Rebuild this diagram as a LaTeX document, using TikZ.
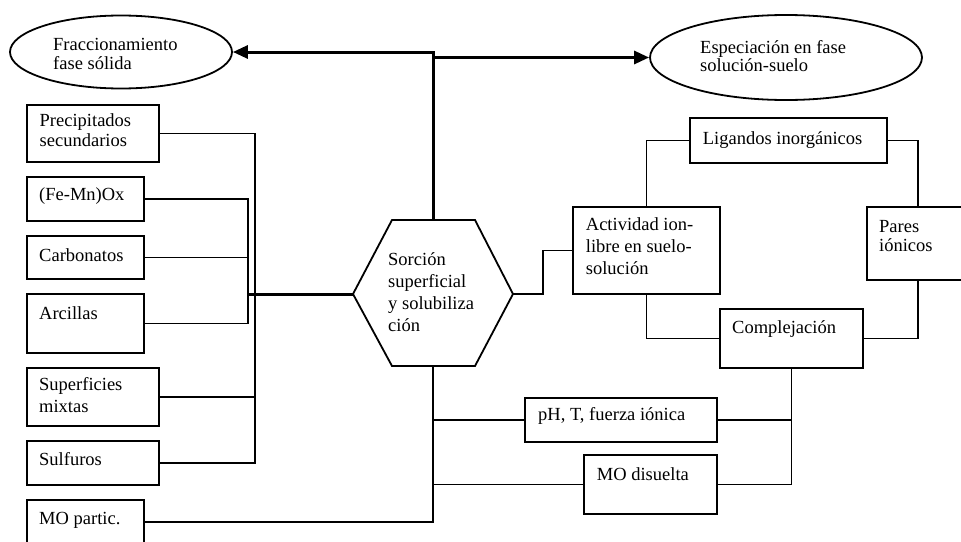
\documentclass[tikz,border=0pt]{standalone}
\usepackage{fontspec}
\setmainfont{Liberation Serif}
\usetikzlibrary{arrows.meta,calc,shapes.geometric}
\newcommand\twoline[3][20.5pt]{\vtop{\baselineskip=#1\relax\hbox{#2}\hbox{#3}}}
\begin{document}
\begin{tikzpicture}[x=1pt,y=-1pt,
  txt/.style={anchor=base west, inner sep=0pt, font=\fontsize{18.5}{20.5}\selectfont},
  box/.style={draw, line width=1.8pt, anchor=north west, inner sep=0pt},
  ell/.style={draw, ellipse, line width=1.8pt, inner sep=0pt},
  conn/.style={line width=1.8pt},
  heavy/.style={line width=3pt},
  tip/.style={-{Triangle[length=15pt,width=13pt]}}]
\useasboundingbox (0,0) rectangle (961,541);
\clip (0,0) rectangle (961,541);

% ellipses
\node[ell, minimum width=222pt, minimum height=73pt] (fr) at (121,52) {};
\node[txt] (frT) at (53,50) {\twoline[19pt]{Fraccionamiento}{fase sólida}};
\node[ell, minimum width=272pt, minimum height=85pt] (esp) at (786,57.5) {};
\node[txt] (espT) at (700,53.3) {\twoline[18.5pt]{Especiación en fase}{solución-suelo}};

% left boxes
\node[box, minimum width=132pt, minimum height=57pt] (prec) at (26,104) {};
\node[txt] (precT) at (39.5,126.7) {\twoline[20pt]{Precipitados}{secundarios}};
\node[box, minimum width=117pt, minimum height=44pt] (femn) at (26,176) {};
\node[txt] (femnT) at (39,200) {(Fe-Mn)Ox};
\node[box, minimum width=117pt, minimum height=43pt] (carb) at (26,235) {};
\node[txt] (carbT) at (39,261) {Carbonatos};
\node[box, minimum width=117pt, minimum height=59pt] (arc) at (26,293) {};
\node[txt] (arcT) at (39,319) {Arcillas};
\node[box, minimum width=132pt, minimum height=58pt] (sup) at (26,367) {};
\node[txt] (supT) at (39,390.5) {\twoline[21.5pt]{Superficies}{mixtas}};
\node[box, minimum width=132pt, minimum height=44pt] (sulf) at (26,440) {};
\node[txt] (sulfT) at (39,465) {Sulfuros};
\node[box, minimum width=117pt, minimum height=44pt] (mop) at (26,499) {};
\node[txt] (mopT) at (39,524) {MO partic.};

% hexagon
\coordinate (hT1) at (392,220);
\coordinate (hT2) at (475,220);
\coordinate (hR) at (513,294);
\coordinate (hB2) at (475,366);
\coordinate (hB1) at (392,366);
\coordinate (hL) at (353,294);
\coordinate (hT) at (433,220);
\coordinate (hB) at (433,366);
\draw[conn] (hT1) -- (hT2) -- (hR) -- (hB2) -- (hB1) -- (hL) -- cycle;
\node[txt] (sor) at (388,265) {\vtop{\baselineskip=22.3pt\relax\hbox{Sorción}\hbox{superficial}\hbox{y solubiliza}\hbox{ción}}};

% right boxes
\node[box, minimum width=197pt, minimum height=45pt] (lig) at (689,117) {};
\node[txt] (ligT) at (702.7,144) {Ligandos inorgánicos};
\node[box, minimum width=147pt, minimum height=87pt] (act) at (572,206) {};
\node[txt] (actT) at (585.7,230.7) {\vtop{\baselineskip=21.7pt\relax\hbox{Actividad ion-}\hbox{libre en suelo-}\hbox{solución}}};
\node[box, minimum width=102pt, minimum height=73pt] (par) at (866,206) {};
\node[txt] (parT) at (879,232) {\twoline[19.7pt]{Pares}{iónicos}};
\node[box, minimum width=143pt, minimum height=59pt] (comp) at (719,308) {};
\node[txt] (compT) at (732,333.5) {Complejación};
\node[box, minimum width=192pt, minimum height=44pt] (ph) at (524,397) {};
\node[txt] (phT) at (538,420.5) {pH, T, fuerza iónica};
\node[box, minimum width=133pt, minimum height=59pt] (mod) at (583,454) {};
\node[txt] (modT) at (596.7,480.5) {MO disuelta};

% bus coordinates
\coordinate (bL) at (248,0);
\coordinate (bR) at (255,0);

% left connectors
\draw[conn] (prec.east) -| (bR |- sulf.east) -- (sulf.east);
\draw[conn] (sup.east) -- (sup.east -| bR);
\draw[conn] (femn.east) -| (bL |- arc.east) -- (arc.east);
\draw[conn] (carb.east) -- (carb.east -| bL);
\draw[heavy] (bL |- hL) -- (hL);

% top arrows
\draw[heavy, tip] (hT) |- (fr.east);
\draw[heavy, tip] (hT |- esp.west) -- (esp.west);

% right side connectors
\draw[conn] (hR) -- ++(30,0) |- (act.west);
\draw[conn] (act.north) |- (lig.west);
\draw[conn] (lig.east) -| (par.north);
\draw[conn] (act.south) |- (comp.west);
\draw[conn] (comp.east) -| (par.south);
\draw[conn] (comp.south) |- (mod.east);
\draw[conn] (ph.east) -- (ph.east -| comp.south);

% bottom connectors
\draw[conn] (hB) |- (mop.east);
\draw[conn] (ph.west) -- (ph.west -| hB);
\draw[conn] (mod.west) -- (mod.west -| hB);
\end{tikzpicture}
\end{document}
